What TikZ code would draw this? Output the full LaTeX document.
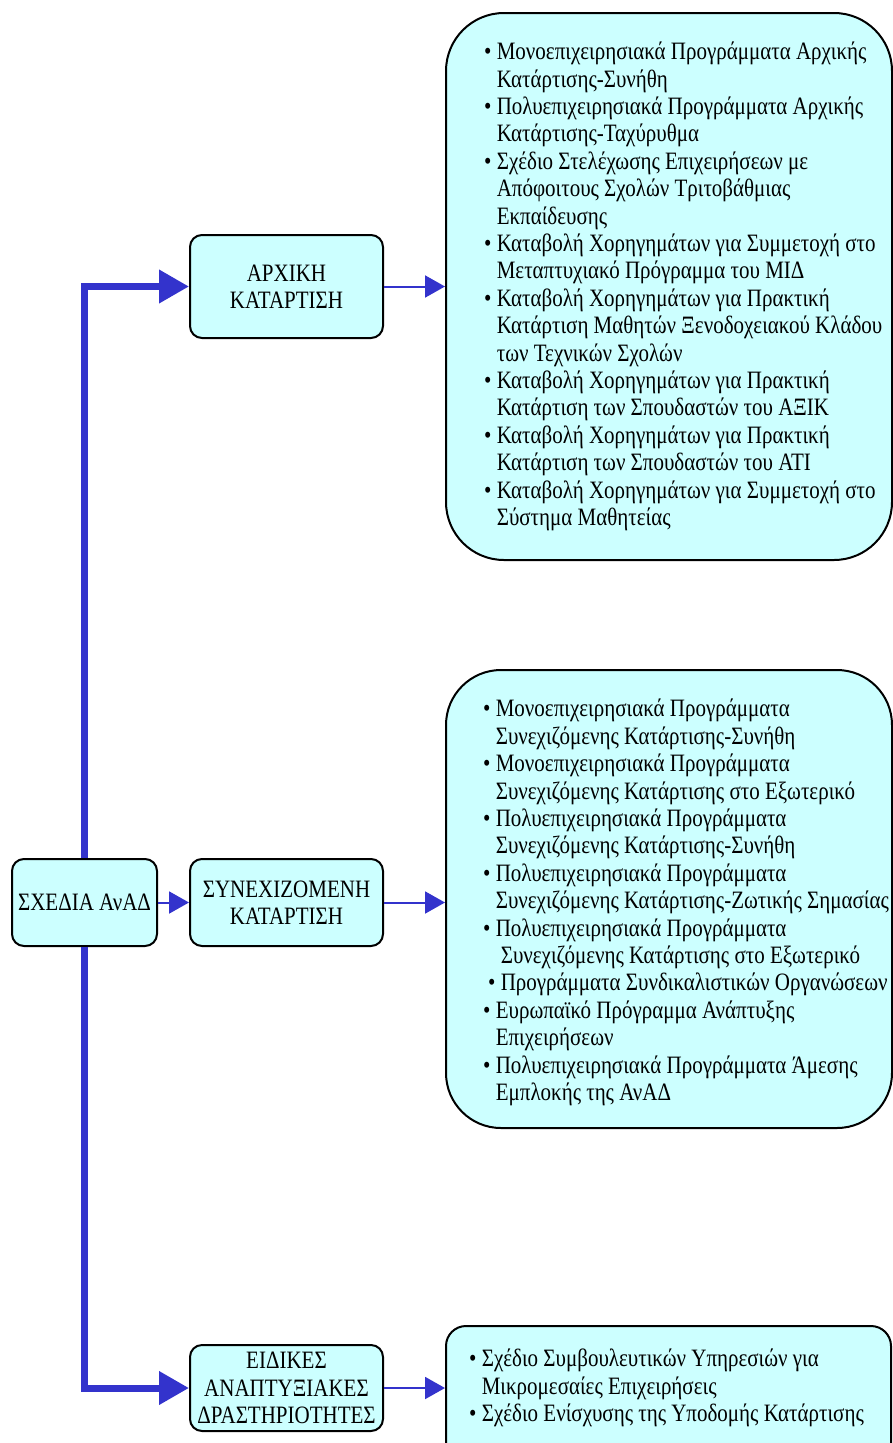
\documentclass[tikz,border=0pt]{standalone}
\usepackage{fontspec}
\setmainfont{Liberation Serif}[FakeStretch=0.84]
\usetikzlibrary{positioning,arrows.meta}
\definecolor{boxcyan}{HTML}{CCFFFF}
\definecolor{linkblue}{HTML}{3333CC}
\newcommand{\itm}{\textbullet\ }
\newcommand{\cnt}{\phantom{\textbullet\ }}

\begin{document}
\begin{tikzpicture}[x=1pt, y=-1pt,
  every node/.style={font=\fontsize{25}{27.4}\selectfont},
  stage/.style={draw, line width=2pt, rounded corners=12pt, fill=boxcyan, align=center, inner sep=0pt, minimum width=193pt},
  panel/.style={draw, line width=2pt, fill=boxcyan, anchor=north west, minimum width=446pt},
  items/.style={align=left, inner sep=0pt},
  trunk/.style={linkblue, line width=7pt, -{Triangle[length=30pt,width=32pt]}},
  link/.style={linkblue, line width=2pt, -{Triangle[length=20pt,width=22pt]}}]
\useasboundingbox (0,0) rectangle (893,1443);

\node[stage, minimum width=145pt, minimum height=87pt] (plan) at (84.5,902.5) {ΣΧΕΔΙΑ ΑνΑΔ};
\node[stage, minimum height=87pt, right=31pt of plan] (cont) {ΣΥΝΕΧΙΖΟΜΕΝΗ\\ΚΑΤΑΡΤΙΣΗ};
\node[stage, minimum height=103pt, above=519pt of cont] (init) {ΑΡΧΙΚΗ\\ΚΑΤΑΡΤΙΣΗ};
\node[stage, minimum height=86pt, below=397pt of cont] (spec) {ΕΙΔΙΚΕΣ\\ΑΝΑΠΤΥΞΙΑΚΕΣ\\ΔΡΑΣΤΗΡΙΟΤΗΤΕΣ};

\node[panel, rounded corners=58pt, minimum height=547pt] (initpanel) at (445,12) {};
\node[panel, rounded corners=55pt, minimum height=458pt] (contpanel) at (445,669) {};
\node[panel, rounded corners=20pt, minimum height=140pt, minimum width=445pt] (specpanel) at (445,1325) {};

\node[items, right=100pt of init] (initlist) {\itm Μονοεπιχειρησιακά Προγράμματα Αρχικής\\
  \cnt Κατάρτισης-Συνήθη\\
  \itm Πολυεπιχειρησιακά Προγράμματα Αρχικής\\
  \cnt Κατάρτισης-Ταχύρυθμα\\
  \itm Σχέδιο Στελέχωσης Επιχειρήσεων με\\
  \cnt Απόφοιτους Σχολών Τριτοβάθμιας\\
  \cnt Εκπαίδευσης\\
  \itm Καταβολή Χορηγημάτων για Συμμετοχή στο\\
  \cnt Μεταπτυχιακό Πρόγραμμα του ΜΙΔ\\
  \itm Καταβολή Χορηγημάτων για Πρακτική\\
  \cnt Κατάρτιση Μαθητών Ξενοδοχειακού Κλάδου\\
  \cnt των Τεχνικών Σχολών\\
  \itm Καταβολή Χορηγημάτων για Πρακτική\\
  \cnt Κατάρτιση των Σπουδαστών του ΑΞΙΚ\\
  \itm Καταβολή Χορηγημάτων για Πρακτική\\
  \cnt Κατάρτιση των Σπουδαστών του ΑΤΙ\\
  \itm Καταβολή Χορηγημάτων για Συμμετοχή στο\\
  \cnt Σύστημα Μαθητείας};
\node[items, right=99pt of cont] (contlist) {\itm Μονοεπιχειρησιακά Προγράμματα\\
  \cnt Συνεχιζόμενης Κατάρτισης-Συνήθη\\
  \itm Μονοεπιχειρησιακά Προγράμματα\\
  \cnt Συνεχιζόμενης Κατάρτισης στο Εξωτερικό\\
  \itm Πολυεπιχειρησιακά Προγράμματα\\
  \cnt Συνεχιζόμενης Κατάρτισης-Συνήθη\\
  \itm Πολυεπιχειρησιακά Προγράμματα\\
  \cnt Συνεχιζόμενης Κατάρτισης-Ζωτικής Σημασίας\\
  \itm Πολυεπιχειρησιακά Προγράμματα\\
  \cnt\hspace*{5pt}Συνεχιζόμενης Κατάρτισης στο Εξωτερικό\\
  \hspace*{5pt}\itm Προγράμματα Συνδικαλιστικών Οργανώσεων\\
  \itm Ευρωπαϊκό Πρόγραμμα Ανάπτυξης\\
  \cnt Επιχειρήσεων\\
  \itm Πολυεπιχειρησιακά Προγράμματα Άμεσης\\
  \cnt Εμπλοκής της ΑνΑΔ};
\node[items, right=85pt of spec] (speclist) {\itm Σχέδιο Συμβουλευτικών Υπηρεσιών για\\
  \cnt Μικρομεσαίες Επιχειρήσεις\\
  \itm Σχέδιο Ενίσχυσης της Υποδομής Κατάρτισης};

\draw[trunk] (plan.north) |- (init);
\draw[trunk] (plan.south) |- (spec);
\draw[link] (plan) -- (cont);
\draw[link] (init) -- (init -| initpanel.west);
\draw[link] (cont) -- (cont -| contpanel.west);
\draw[link] (spec) -- (spec -| specpanel.west);
\end{tikzpicture}
\end{document}
